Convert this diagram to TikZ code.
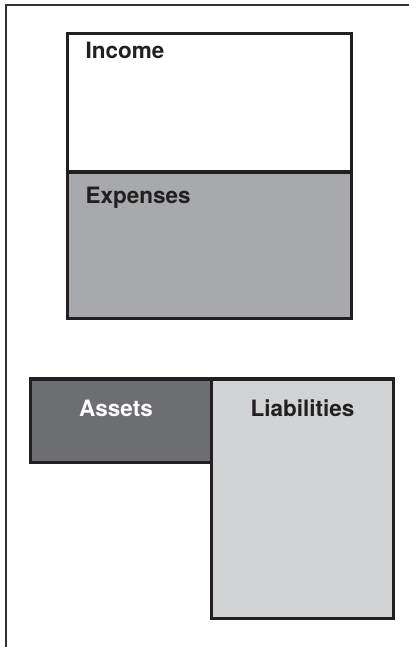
\documentclass[tikz,border=0pt]{standalone}
\usepackage{fontspec}
\setmainfont{TeX Gyre Heros}
\usetikzlibrary{calc,positioning}
\definecolor{inkline}{HTML}{231F20}
\definecolor{expgray}{HTML}{A7A9AC}
\definecolor{assgray}{HTML}{6D6E71}
\definecolor{liagray}{HTML}{D1D3D4}
\tikzset{
	%Define style for boxes
	acctbox/.style={
		rectangle,
		draw=inkline, line width=3.6pt,
		inner sep=0pt,
		outer sep=0pt},
	%Define style for box titles
	acctlabel/.style={
		font=\bfseries\fontsize{22.5}{25}\selectfont,
		text=inkline,
		inner sep=0pt},
	% Define style for the page frame
	frameline/.style={
		draw=black!80,
		line width=2pt}
}
\begin{document}
\begin{tikzpicture}[x=1pt,y=1pt]
				\useasboundingbox (0,0) rectangle (409,647);
				% page frame
				\draw[frameline] (5.5,-2) -- (5.5,641.5) -- (411,641.5);
				% node Income
				\node[acctbox, fill=white, anchor=north west, minimum width=284pt, minimum height=138.5pt] (income) at (67.5,613.5) {};
				% node Expenses
				\node[acctbox, fill=expgray, below=0pt of income, minimum width=284pt, minimum height=146.5pt] (expenses) {};
				% node Assets
				\node[acctbox, fill=assgray, anchor=north west, minimum width=181pt, minimum height=83.5pt] (assets) at (30.5,268) {};
				% node Liabilities
				\node[acctbox, fill=liagray, anchor=north west, minimum width=182pt, minimum height=239.5pt] (liabilities) at (assets.north east) {};
				% titles
				\node[acctlabel, anchor=base west] (incometitle) at ($(income.north west)+(18pt,-25pt)$) {Income};
				\node[acctlabel, anchor=base west] (expensestitle) at ($(expenses.north west)+(18pt,-31.3pt)$) {Expenses};
				\node[acctlabel, text=white, anchor=base] (assetstitle) at ($(assets.north)+(-5pt,-37.7pt)$) {Assets};
				\node[acctlabel, anchor=base] (liabilitiestitle) at ($(liabilities.north)+(0pt,-37.7pt)$) {Liabilities};
			\end{tikzpicture}
\end{document}
